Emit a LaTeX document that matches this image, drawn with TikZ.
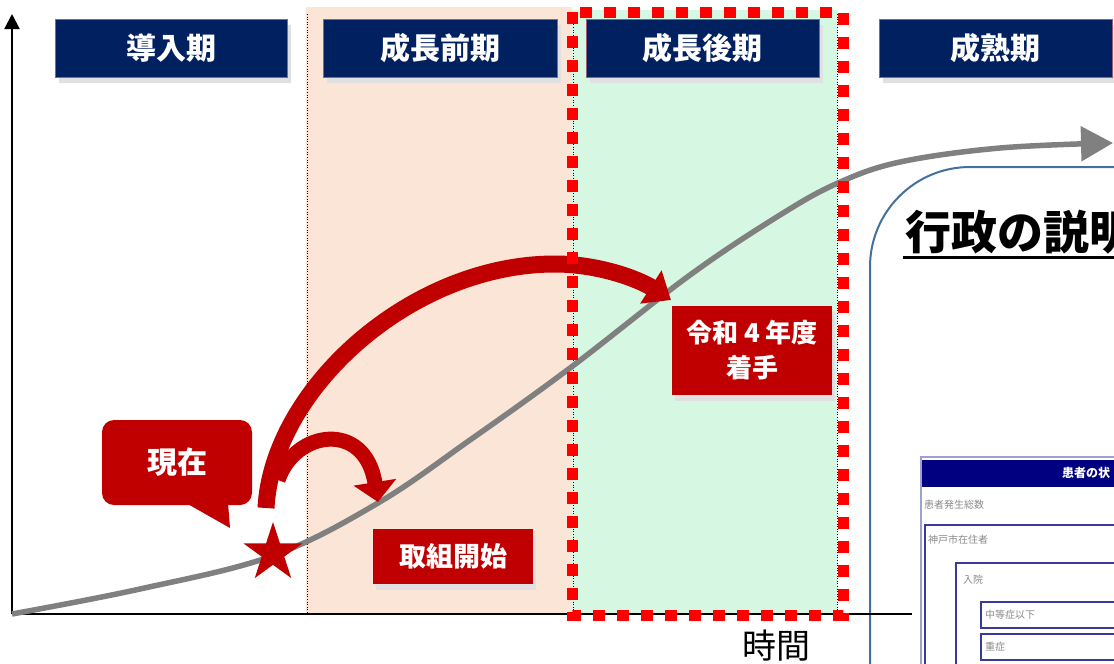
\documentclass[tikz,border=0pt]{standalone}
\usepackage{fontspec}
\setmainfont{Noto Sans CJK JP}
\usetikzlibrary{arrows.meta,shapes.geometric,shadows}
\definecolor{navy}{HTML}{002060}
\definecolor{hdrborder}{HTML}{9C5C7C}
\definecolor{darkred}{HTML}{C00000}
\definecolor{peach}{HTML}{FBE5D6}
\definecolor{mint}{HTML}{D6F8E3}
\definecolor{brightred}{HTML}{FF0000}
\definecolor{panelblue}{HTML}{41719C}
\definecolor{curvegray}{HTML}{808080}
\definecolor{formnavy}{HTML}{000080}
\definecolor{formframe}{HTML}{A0A0D0}
\definecolor{formbox}{HTML}{3A3A9A}
\definecolor{formtext}{HTML}{8A8A8A}
\tikzset{
  hdr/.style={fill=navy, draw=hdrborder, line width=1pt, text=white,
    font=\bfseries\fontsize{30}{36}\selectfont, minimum width=232pt,
    minimum height=58pt, inner sep=0pt,
    drop shadow={shadow xshift=4pt, shadow yshift=-5pt, fill=black!12, opacity=1}},
  redbox/.style={fill=darkred, text=white, align=center,
    font=\bfseries\fontsize{27}{35}\selectfont, inner sep=0pt,
    drop shadow={shadow xshift=3pt, shadow yshift=-6pt, fill=black!12, opacity=1}},
  dotline/.style={black, line width=0.6pt, dotted},
  formlbl/.style={anchor=west, text=formtext, font=\fontsize{10}{12}\selectfont, inner sep=0pt},
  formrect/.style={draw=formbox, line width=1.2pt, fill=white},
  redarrow/.style={darkred, line cap=butt}
}
\begin{document}
\begin{tikzpicture}[x=1pt, y=-1pt]
\fill[white] (0,0) rectangle (1114,664);
\useasboundingbox (0,0) rectangle (1114,664);
\clip (0,0) rectangle (1114,664);
% bands
\fill[peach] (306,7) rectangle (572,614);
\fill[mint] (572,10) rectangle (838,614);
\draw[dotline] (307,14) -- (307,614);
\draw[dotline] (573,14) -- (573,614);
\draw[dotline] (837,14) -- (837,614);
% right panel
\draw[panelblue, line width=2pt, fill=white, rounded corners=100pt]
  (870,900) -- (870,167) -- (1400,167) -- (1400,900) -- cycle;
% axes
\coordinate (origin) at (12,614);
\coordinate (ytop) at (12,14);
\coordinate (xend) at (912,614);
\draw[line width=2pt, -{Triangle[length=15pt,width=15pt]}] (origin) -- (ytop);
\draw[line width=2.5pt] (origin) -- (xend);
\node[font=\fontsize{34}{40}\selectfont] (time) at (776,646) {時間};
% growth curve
\draw[curvegray, line width=5.5pt, -{Triangle[length=32pt,width=34pt]}]
  plot[smooth, tension=0.6] coordinates {(12,614) (140,589) (272,556) (378,503)
  (470,440) (570,368) (690,275) (780,215) (838,183) (900,162) (1000,148) (1113,143)};
% headers
\node[hdr] (h1) at (171,48.5) {導入期};
\node[hdr, minimum width=234pt] (h2) at (440,48.5) {成長前期};
\node[hdr, minimum width=233pt] (h3) at (702.5,48.5) {成長後期};
\node[hdr, minimum width=233pt] (h4) at (995.5,48.5) {成熟期};
% red arrows
\coordinate (bigstart) at (266,508);
\coordinate (bigtop) at (555,264);
\coordinate (bigtip) at (671,300);
\draw[redarrow, line width=17pt, -{Triangle[length=24pt,width=38pt]}]
  (bigstart) .. controls (272,390) and (410,264) .. (bigtop)
  .. controls (600,264) and (640,280) .. (bigtip);
\coordinate (smallstart) at (278,480);
\coordinate (smalltip) at (378,502);
\draw[redarrow, line width=15pt, -{Triangle[length=20pt,width=42pt]}]
  (smallstart) .. controls (295,430) and (365,420) .. (smalltip);
% dashed frame
\draw[brightred, line width=11pt, dash pattern=on 12pt off 12pt]
  (572,12) rectangle (843,615);
% star
\node[star, star points=5, star point ratio=2.618, fill=darkred,
  minimum size=62pt, inner sep=0pt] (nowstar) at (273,553) {};
% callout
\fill[darkred, rounded corners=12pt] (102,420) rectangle (252,505);
\fill[darkred] (186,503) -- (230,528) -- (228,503) -- cycle;
\node[text=white, font=\bfseries\fontsize{30}{36}\selectfont] (now) at (177,462) {現在};
% red boxes
\node[redbox, minimum width=160pt, minimum height=55pt] (start) at (453,556.5) {取組開始};
\node[redbox, minimum width=160pt, minimum height=89pt, font=\bfseries\fontsize{26}{35}\selectfont] (r4) at (752,350.5) {令和 4 年度\\着手};
% panel title
\node[anchor=base west, inner sep=0pt, font=\bfseries\fontsize{46}{50}\selectfont] (title) at (905,249) {行政の説明};
\draw[line width=3pt] (903,257) -- (1114,257);
% form screenshot
\draw[draw=formframe, line width=1.2pt, fill=white] (921,457) rectangle (1200,720);
\fill[formnavy] (922,460) rectangle (1200,487);
\node[anchor=west, inner sep=0pt, text=white, font=\bfseries\fontsize{12}{14}\selectfont] (fhead) at (1062,473) {患者の状};
\node[formlbl] (f1) at (924,505) {患者発生総数};
\draw[formrect] (925,525) rectangle (1200,720);
\node[formlbl] (f2) at (928,540) {神戸市在住者};
\draw[formrect] (956,563) rectangle (1200,720);
\node[formlbl] (f3) at (963,580) {入院};
\draw[formrect] (981,602) rectangle (1200,628);
\node[formlbl] (f4) at (985,615) {中等症以下};
\draw[formrect] (981,634) rectangle (1200,660);
\node[formlbl] (f5) at (985,647) {重症};
\end{tikzpicture}
\end{document}
